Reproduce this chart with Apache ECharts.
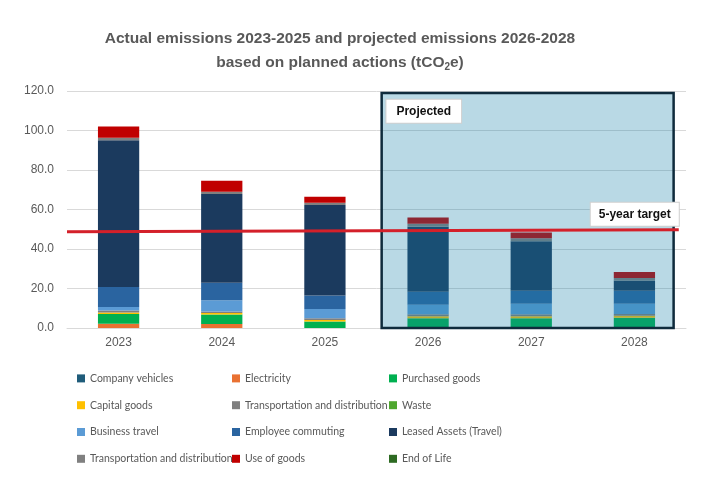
<!DOCTYPE html>
<html>
<head>
<meta charset="utf-8">
<script src="https://cdn.jsdelivr.net/npm/echarts@6/dist/echarts.min.js"></script>
<style>
  html, body { margin: 0; padding: 0; background: #fff; }
  #main { width: 702px; height: 482px; }
</style>
</head>
<body>
<div id="main"></div>
<script>
var years = ['2023', '2024', '2025', '2026', '2027', '2028'];
var yTicks = [0, 20, 40, 60, 80, 100, 120];

// tCO2e per category, bottom of stack first
var companyVehicles = [0, 0, 0, 0, 0, 0];
var electricity     = [2.2, 2.0, 0, 0, 0, 0];
var purchasedGoods  = [4.9, 4.8, 3.3, 4.9, 4.9, 5.2];
var capitalGoods    = [0.8, 0.8, 0.7, 1.0, 1.0, 1.0];
var transportUp     = [0.9, 0.8, 0.9, 1.0, 1.0, 0.9];
var waste           = [0, 0, 0, 0, 0, 0];
var businessTravel  = [1.8, 5.6, 4.7, 4.9, 5.4, 5.2];
var empCommuting    = [10.2, 8.9, 6.8, 6.6, 6.6, 6.6];
var leasedAssets    = [74.3, 44.9, 45.9, 32.9, 25.0, 5.2];
var transportDown   = [1.2, 1.2, 1.1, 1.5, 1.5, 1.2];
var useOfGoods      = [5.7, 5.6, 3.1, 3.2, 2.9, 3.1];
var endOfLife       = [0, 0, 0, 0, 0, 0];

// 5-year target line (x on the hidden value axis, -0.5 = left edge)
var targetX = [-0.5, 5.43];
var targetY = [48.7, 49.7];
// projected box corners
var projX = [2.55, 5.38];
var projY = [119, -1.2];

var myChart = echarts.init(document.getElementById('main'));

var grey = '#595959';
var sans = "'Liberation Sans', Arial, sans-serif";
var legendFont = "Lato, 'Liberation Sans', sans-serif";

var stackDefs = [
  ['Company vehicles', companyVehicles, '#1f5c7a'],
  ['Electricity', electricity, '#e97132'],
  ['Purchased goods', purchasedGoods, '#00b050'],
  ['Capital goods', capitalGoods, '#ffc000'],
  ['Transportation and distribution', transportUp, '#7f7f7f'],
  ['Waste', waste, '#4ea72e'],
  ['Business travel', businessTravel, '#5b9bd5'],
  ['Employee commuting', empCommuting, '#2a64a0'],
  ['Leased Assets (Travel)', leasedAssets, '#1b3a5e'],
  ['Transportation and distribution ', transportDown, '#808080'],
  ['Use of goods', useOfGoods, '#c00000'],
  ['End of Life', endOfLife, '#2d6a22']
];

var series = stackDefs.map(function (d) {
  return {
    name: d[0],
    type: 'bar',
    stack: 'total',
    barWidth: '40%',
    data: d[1],
    itemStyle: { color: d[2] },
    z: 2
  };
});

var boxLabel = {
  fontFamily: sans,
  fontWeight: 'bold',
  fontSize: 12,
  color: '#111',
  backgroundColor: '#fff',
  borderColor: '#cfcfcf',
  borderWidth: 1
};

series.push({
  name: 'target',
  type: 'line',
  xAxisIndex: 1,
  clip: false,
  symbol: 'none',
  z: 5,
  data: targetX.map(function (x, i) { return [x, targetY[i]]; }),
  lineStyle: { color: '#d4202a', width: 3 },
  markPoint: {
    silent: true,
    z: 6,
    symbol: 'circle',
    symbolSize: 0,
    label: Object.assign({
      show: true,
      position: 'top',
      distance: 4,
      align: 'right',
      formatter: '5-year target',
      padding: [6, 8, 5, 8]
    }, boxLabel),
    data: [{ coord: [targetX[1], targetY[1]] }]
  },
  markArea: {
    silent: true,
    z: 3,
    itemStyle: {
      color: 'rgba(22,128,170,0.3)',
      borderColor: '#0f2b3c',
      borderWidth: 2.5
    },
    label: Object.assign({
      show: true,
      position: 'insideTopLeft',
      distance: 5,
      offset: [1, 3],
      formatter: 'Projected',
      padding: [6, 10, 5, 10]
    }, boxLabel),
    data: [[{ coord: [projX[0], projY[0]] }, { coord: [projX[1], projY[1]] }]]
  }
});

var legendCols = [
  ['Company vehicles', 'Capital goods', 'Business travel', 'Transportation and distribution '],
  ['Electricity', 'Transportation and distribution', 'Employee commuting', 'Use of goods'],
  ['Purchased goods', 'Waste', 'Leased Assets (Travel)', 'End of Life']
];
var legendLeft = [72, 227, 384];

var option = {
  animation: false,
  backgroundColor: '#fff',
  title: {
    text: 'Actual emissions 2023-2025 and projected emissions 2026-2028\nbased on planned actions (tCO{sub|2}e)',
    left: 335,
    top: 22,
    textAlign: 'center',
    textStyle: {
      fontFamily: sans,
      fontWeight: 'bold',
      fontSize: 15.5,
      lineHeight: 24,
      color: grey,
      rich: {
        sub: { fontFamily: sans, fontWeight: 'bold', fontSize: 10, color: grey, padding: [9, 0, 0, 0] }
      }
    }
  },
  legend: legendCols.map(function (names, i) {
    return {
      orient: 'vertical',
      left: legendLeft[i],
      top: 360,
      itemGap: 0,
      itemWidth: 8,
      itemHeight: 8,
      icon: 'rect',
      data: names,
      textStyle: {
        fontFamily: legendFont,
        fontSize: 10.5,
        color: grey,
        lineHeight: 26.8,
        height: 26.8
      }
    };
  }),
  grid: { left: 67, right: 16, top: 91, bottom: 154 },
  xAxis: [{
    type: 'category',
    data: years,
    axisLine: { lineStyle: { color: '#d9d9d9' } },
    axisTick: { show: false },
    axisLabel: { color: grey, fontFamily: sans, fontSize: 12, margin: 9 }
  }, {
    type: 'value',
    min: -0.5,
    max: 5.5,
    show: false
  }],
  yAxis: {
    type: 'value',
    min: yTicks[0],
    max: yTicks[yTicks.length - 1],
    interval: 20,
    axisLine: { show: false },
    axisTick: { show: false },
    splitLine: { lineStyle: { color: '#d9d9d9' } },
    axisLabel: {
      color: grey,
      fontFamily: sans,
      fontSize: 12,
      margin: 13,
      formatter: function (v) { return v.toFixed(1); }
    }
  },
  series: series
};

myChart.setOption(option);
</script>
</body>
</html>
